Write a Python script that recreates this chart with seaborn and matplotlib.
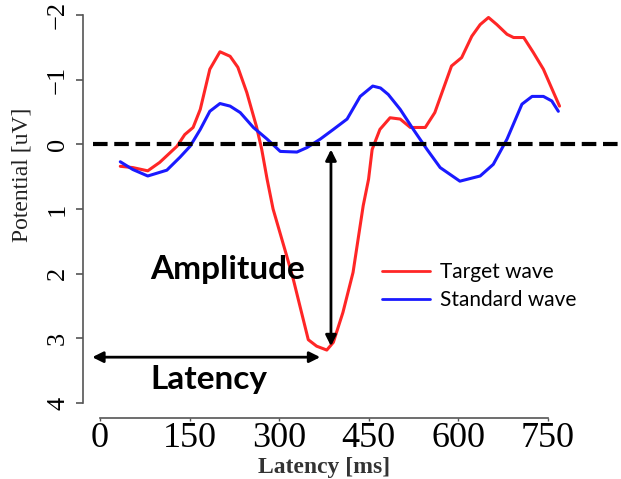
import pandas as pd
import seaborn as sns
import matplotlib.pyplot as plt

# values
target_ms = [34, 55, 80, 100, 129, 142, 156, 168, 184, 201, 218, 231, 246, 262, 271,
             280, 290, 313, 324, 335, 349, 363, 380, 391, 407, 424, 441, 450, 456,
             469, 486, 503, 520, 545, 561, 575, 589, 606, 623, 637, 651, 665, 682,
             693, 710, 726, 743, 760, 770]
target_uv = [0.34, 0.36, 0.41, 0.28, 0.03, -0.15, -0.26, -0.54, -1.16, -1.43, -1.36, -1.19, -0.80, -0.28, 0.08,
             0.54, 1.0, 1.73, 2.09, 2.5, 3.02, 3.12, 3.18, 3.06, 2.6, 1.98, 0.95, 0.54, 0.08,
             -0.23, -0.41, -0.39, -0.26, -0.26, -0.49, -0.85, -1.21, -1.34, -1.67, -1.85, -1.96, -1.85, -1.70,
             -1.65, -1.65, -1.42, -1.16, -0.80, -0.59]

standard_ms = [34, 55, 80, 112, 134, 151, 168, 184, 201, 218, 235, 257, 280, 302, 330, 347,
               369, 391, 414, 436, 457, 470, 483, 503, 525, 548, 570, 603, 637, 659, 682,
               707, 724, 743, 757, 768]
standard_uv = [0.27, 0.39, 0.49, 0.40, 0.20, 0.03, -0.23, -0.51, -0.63, -0.59, -0.49, -0.26, -0.08, 0.11, 0.12, 0.05,
               -0.08, -0.23, -0.39, -0.74, -0.90, -0.87, -0.77, -0.54, -0.23, 0.08, 0.36, 0.57, 0.49, 0.31, -0.08,
               -0.62, -0.74, -0.74, -0.67, -0.51]

wave_names = ["Target wave", "Standard wave"]
x_ticks = [0, 150, 300, 450, 600, 750]
y_ticks = [-2, -1, 0, 1, 2, 3, 4]

# peak marked by the arrows
peak_ms, peak_uv = 385, 3.15

df = pd.concat([
    pd.DataFrame({"ms": target_ms, "uv": target_uv, "wave": wave_names[0]}),
    pd.DataFrame({"ms": standard_ms, "uv": standard_uv, "wave": wave_names[1]}),
])

sns.set_style("ticks")
plt.rcParams["font.family"] = ["Liberation Serif", "DejaVu Serif"]
plt.rcParams["text.color"] = "black"
plt.rcParams["xtick.labelcolor"] = "black"
plt.rcParams["ytick.labelcolor"] = "black"

fig = plt.figure(figsize=(6.21, 4.79), dpi=100)
ax = fig.add_axes([83 / 621, 61 / 479, 538 / 621, 418 / 479])

palette = {wave_names[0]: "#ff2626", wave_names[1]: "#1a1aff"}
sns.lineplot(data=df, x="ms", y="uv", hue="wave", palette=palette, sort=False,
             linewidth=2.2, ax=ax, legend=False)

ax.set_xlim(-28.5, 873)
ax.set_ylim(4.23, -2.23)
ax.axhline(0, xmin=0.018, xmax=1, color="black", lw=3, dashes=(3.5, 1.6))

# amplitude / latency arrows
arrow = dict(arrowstyle="<|-|>", color="black", lw=2, mutation_scale=16, shrinkA=0, shrinkB=0)
ax.annotate("", xy=(peak_ms + 2, 0.08), xytext=(peak_ms + 2, peak_uv - 0.03), arrowprops=arrow)
ax.annotate("", xy=(-13, 3.29), xytext=(peak_ms - 16, 3.29), arrowprops=arrow)
ax.text(84, 1.93, "Amplitude", fontsize=24, fontweight="bold", family=["Lato", "DejaVu Sans"],
        ha="left", va="center", color="black")
ax.text(84, 3.63, "Latency", fontsize=24, fontweight="bold", family=["Lato", "DejaVu Sans"],
        ha="left", va="center", color="black")

sns.despine(ax=ax)
for side in ["left", "bottom"]:
    ax.spines[side].set_color("#555555")
    ax.spines[side].set_linewidth(1.2)
ax.spines["left"].set_bounds(-2, 4)
ax.spines["bottom"].set_bounds(0, 750)

ax.set_xticks(x_ticks)
ax.set_yticks(y_ticks)
ax.set_yticklabels([str(v).replace("-", "\u2212") for v in y_ticks], rotation=90, va="center")
ax.tick_params(axis="y", length=5, width=1.2, color="#555555", labelsize=19, pad=5)
ax.tick_params(axis="x", length=2, width=1, color="#555555", labelsize=26, pad=1)

fig.text(22 / 621, 1 - 175 / 479, "Potential [uV]", rotation=90, fontsize=17,
         ha="center", va="center", color="#222222")
fig.text(324 / 621, 1 - 467 / 479, "Latency [ms]", fontsize=17, fontweight="bold",
         ha="center", va="center", color="#333333")
ax.set_xlabel("")
ax.set_ylabel("")

handles = [plt.Line2D([], [], color=palette[w], lw=2) for w in wave_names]
fig.legend(handles, wave_names, loc="upper left", bbox_to_anchor=(382 / 621, 1 - 262 / 479),
           frameon=False, borderpad=0, borderaxespad=0, handlelength=2.3, handletextpad=0.5,
           labelspacing=0.4, prop={"family": ["Lato", "DejaVu Sans"], "size": 15})

fig.savefig("out.png", dpi=100)
